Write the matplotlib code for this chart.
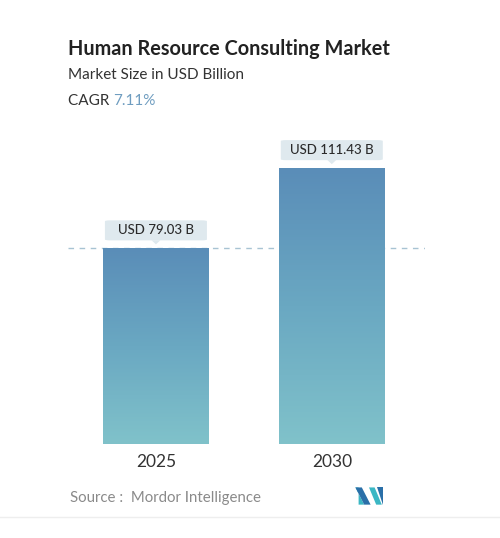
import matplotlib
matplotlib.use("Agg")
import matplotlib.pyplot as plt
import numpy as np
from matplotlib.patches import FancyBboxPatch, Polygon
from matplotlib.colors import LinearSegmentedColormap

plt.rcParams['font.family'] = ['Lato', 'DejaVu Sans']

years = ["2025", "2030"]
values = [79.03, 111.43]
value_labels = ["USD 79.03 B", "USD 111.43 B"]
cagr = "7.11%"

fig = plt.figure(figsize=(5.0, 5.38), dpi=100)
ax = fig.add_axes([0.136, 0.1747, 0.714, 0.5836])

grad = LinearSegmentedColormap.from_list("bar", ["#80c2ca", "#6aa8c2", "#5a8db8"])
x = np.arange(len(years))
width = 0.6
bars = ax.bar(x, values, width=width, color="none", zorder=2)
for rect in bars:
    x0, y0 = rect.get_x(), rect.get_y()
    w, h = rect.get_width(), rect.get_height()
    g = np.linspace(0, 1, 256).reshape(-1, 1)
    im = ax.imshow(g, cmap=grad, origin="lower", aspect="auto",
                   extent=[x0, x0 + w, y0, y0 + h], zorder=2)
    im.set_clip_path(rect)

# dashed reference line at first value
ax.axhline(values[0], color="#a8c3d3", linestyle=(0, (4, 4)), linewidth=1.0, zorder=1)

# value label boxes
gap, bh = 3.2, 8.1
for xi, v, lab in zip(x, values, value_labels):
    box = FancyBboxPatch((xi - width / 2 + 0.01, v + gap), width - 0.02, bh,
                         boxstyle="round,pad=0,rounding_size=0.03",
                         mutation_aspect=12, facecolor="#dfe9ee",
                         edgecolor="none", zorder=3)
    ax.add_patch(box)
    tri = Polygon([[xi - 0.025, v + gap + 0.05], [xi + 0.025, v + gap + 0.05],
                   [xi, v + gap - 1.6]], closed=True, facecolor="#dfe9ee",
                  edgecolor="none", zorder=3)
    ax.add_patch(tri)
    ax.text(xi, v + gap + bh / 2, lab, ha="center", va="center",
            fontsize=9.5, fontweight="medium", color="#2b2b2b", zorder=4)

ax.set_xlim(-0.5, 1.53)
ax.set_ylim(0, 126.8)
ax.set_xticks(x)
ax.set_xticklabels(years, fontsize=12.5, color="#333333")
ax.tick_params(axis="x", length=0, pad=7)
ax.set_yticks([])
for s in ax.spines.values():
    s.set_visible(False)

# header
fig.text(0.136, 0.909, "Human Resource Consulting Market", fontsize=14.3,
         fontweight="bold", color="#222222", ha="left", va="center")
fig.text(0.136, 0.860, "Market Size in USD Billion", fontsize=11,
         color="#333333", ha="left", va="center")
t = fig.text(0.136, 0.813, "CAGR ", fontsize=11, color="#333333",
             ha="left", va="center")
fig.canvas.draw()
bb = t.get_window_extent()
fig.text(bb.x1 / fig.bbox.width, 0.813, cagr, fontsize=11, color="#6f9dc0",
         ha="left", va="center")

# footer
fig.text(0.14, 0.074, "Source :  Mordor Intelligence", fontsize=10.8,
         color="#8a8a8a", ha="left", va="center")
lax = fig.add_axes([0.706, 0.062, 0.064, 0.032])
lax.set_xlim(0, 4)
lax.set_ylim(0, 2)
lax.axis("off")
lax.add_patch(Polygon([[0, 0], [0.7, 0], [0.7, 2], [0.3, 2], [1.4, 0]], closed=True,
                      facecolor="#3bb7c4", edgecolor="none"))
lax.add_patch(Polygon([[0.3, 2], [1.1, 2], [2.2, 0], [1.4, 0]], closed=True,
                      facecolor="#2a6fa8", edgecolor="none"))
lax.add_patch(Polygon([[2.0, 2], [2.7, 2], [3.6, 0], [2.9, 0]], closed=True,
                      facecolor="#3bb7c4", edgecolor="none"))
lax.add_patch(Polygon([[3.0, 2], [3.7, 2], [3.7, 0]], closed=True,
                      facecolor="#2a6fa8", edgecolor="none"))

fig.add_artist(plt.Line2D([0, 1], [0.039, 0.039], color="#eeeeee", linewidth=1.0))

fig.savefig("out.png", dpi=100)
